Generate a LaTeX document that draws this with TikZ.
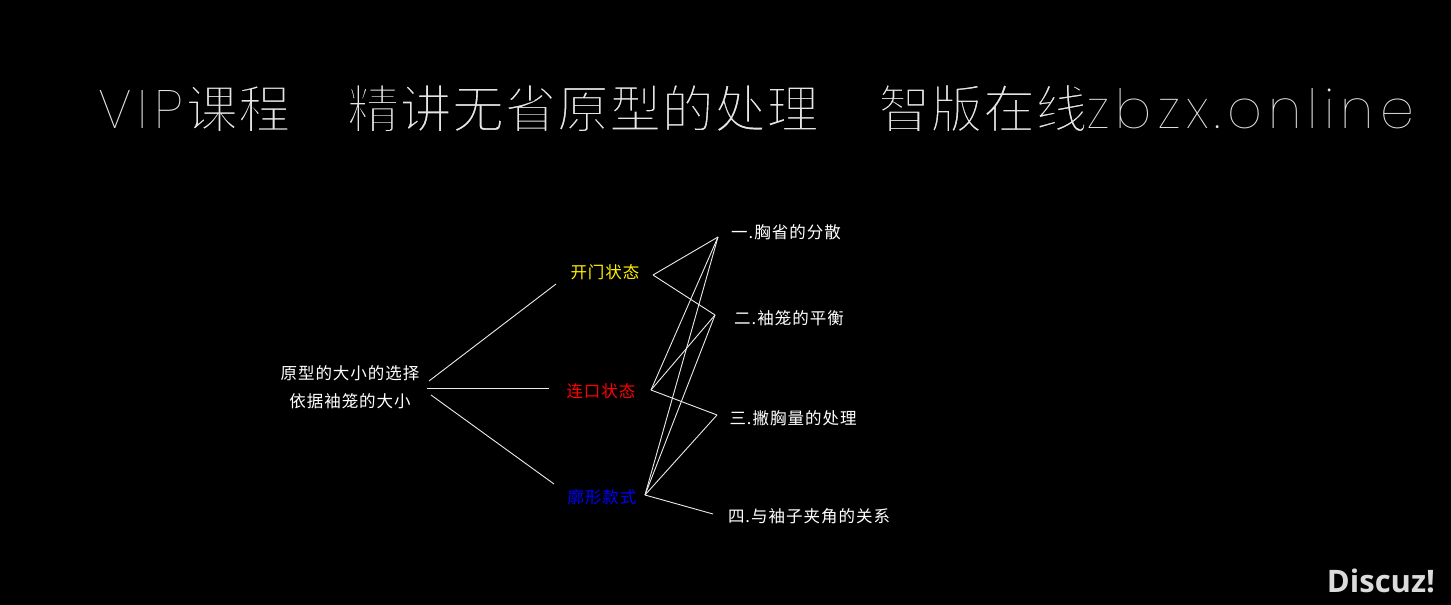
\documentclass[tikz,border=0pt]{standalone}
\usepackage{fontspec}
\setmainfont{Liberation Sans}
\newfontfamily\cjktitle[LetterSpace=0.8]{Noto Sans CJK SC}
\newfontfamily\cjksmall[LetterSpace=6]{Noto Sans CJK SC}
\newfontfamily\latintitle[LetterSpace=11.5,UprightFont=* Thin]{Poppins}
\newfontfamily\discuzfont[UprightFont=* Bold]{Open Sans}
\definecolor{titlegray}{gray}{0.9}
\definecolor{wiregray}{gray}{0.92}
\definecolor{markgray}{gray}{0.86}
\definecolor{outblue}{RGB}{0,0,255}
\newcommand{\thinstart}{\special{pdf:code 2 Tr 2 w 0 0 0 RG}}
\newcommand{\thinend}{\special{pdf:code 0 Tr}}
\newcommand{\ttcjk}[1]{{\cjktitle\fontsize{52}{56}\selectfont\thinstart #1\thinend}}
\newcommand{\ttlat}[1]{{\latintitle\fontsize{54}{56}\selectfont #1}}
\tikzset{
  x=1pt,y=-1pt,
  titletext/.style={inner sep=0pt,anchor=base west,text=titlegray},
  label/.style={inner sep=0pt,anchor=center,font=\cjksmall\fontsize{16.5}{28}\selectfont,text=white},
  wire/.style={draw=wiregray,line width=0.9pt}
}
\begin{document}
\begin{tikzpicture}
\useasboundingbox[fill=black] (0,0) rectangle (1451,605);
% title
\node[titletext] (t1) at (98,128) {\ttlat{VIP}\kern3pt\ttcjk{课程}};
\node[titletext] (t2) at (347,128) {\ttcjk{精讲无省原型的处理}};
\node[titletext] (t3) at (878,128) {\ttcjk{智版在线}\ttlat{zbzx.online}};
% labels
\node[label,align=center] (root) at (350,387) {原型的大小的选择\\依据袖笼的大小};
\node[label,text=yellow] (open) at (605,272) {开门状态};
\node[label,text=red] (mid) at (601,391) {连口状态};
\node[label,text=outblue] (bot) at (602,497) {廓形款式};
\node[label] (a1) at (786,232) {一.胸省的分散};
\node[label] (a2) at (789,318) {二.袖笼的平衡};
\node[label] (a3) at (793,418) {三.撇胸量的处理};
\node[label] (a4) at (809,516) {四.与袖子夹角的关系};
\node[inner sep=0pt,anchor=center,text=markgray,font=\discuzfont\fontsize{31}{34}\selectfont] (mark) at (1381,581) {Discuz!};
% connector ends
\coordinate (r1) at (429,381);
\coordinate (r2) at (427,388);
\coordinate (r3) at (431,395);
\coordinate (o0) at (556,284);
\coordinate (m0) at (549,388);
\coordinate (b0) at (554,484);
\coordinate (oh) at (653,275);
\coordinate (mh) at (651,390);
\coordinate (bh) at (645,495);
\coordinate (p1) at (718,237);
\coordinate (p2) at (715,315);
\coordinate (p3) at (717,415);
\coordinate (p4) at (713,514);
% connectors
\draw[wire] (r1) -- (o0);
\draw[wire] (r2) -- (m0);
\draw[wire] (r3) -- (b0);
\draw[wire] (oh) -- (p1);
\draw[wire] (oh) -- (p2);
\draw[wire] (mh) -- (p1);
\draw[wire] (mh) -- (p2);
\draw[wire] (mh) -- (p3);
\draw[wire] (bh) -- (p1);
\draw[wire] (bh) -- (p2);
\draw[wire] (bh) -- (p3);
\draw[wire] (bh) -- (p4);
\end{tikzpicture}
\end{document}
